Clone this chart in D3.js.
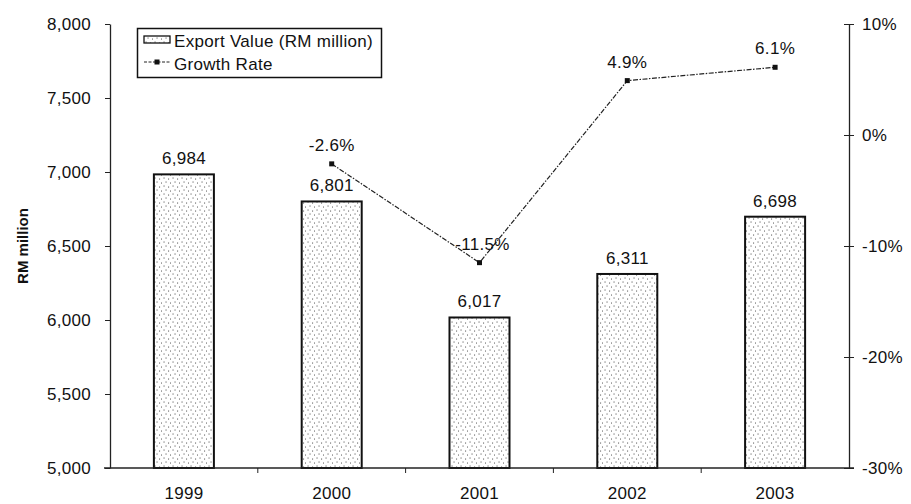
<!DOCTYPE html>
<html><head><meta charset="utf-8">
<script src="https://cdn.jsdelivr.net/npm/d3@7"></script>
<style>
html,body{margin:0;padding:0;background:#fff;}
text{font-family:"Liberation Sans",Arial,sans-serif;fill:#111;}
</style></head>
<body><svg id="c" width="911" height="504"></svg>
<script>
const years = ["1999","2000","2001","2002","2003"];
const exportValue = [6984, 6801, 6017, 6311, 6698];
const growthYears = ["2000","2001","2002","2003"];
const growthRate = [-2.6, -11.5, 4.9, 6.1];
const leftTicks = [5000,5500,6000,6500,7000,7500,8000];
const rightTicks = [-30,-20,-10,0,10];
const seriesNames = ["Export Value (RM million)", "Growth Rate"];
const yTitle = "RM million";

const svg = d3.select("#c");
const L = 110, R = 849, T = 24, B = 468;
const FS = 17, LS = 0.3;

const defs = svg.append("defs");
const pat = defs.append("pattern").attr("id","dots").attr("patternUnits","userSpaceOnUse")
  .attr("width",9).attr("height",8);
pat.append("rect").attr("width",9).attr("height",8).attr("fill","#fff");
[[1.5,1.5],[6,2.5],[3.5,5.5],[8,6.5]].forEach(p=>{
  pat.append("rect").attr("x",p[0]).attr("y",p[1]).attr("width",1.1).attr("height",1.1).attr("fill","#666");
});

const x = d3.scaleBand().domain(years).range([L,R]).paddingInner(0.594).paddingOuter(0.297);
const yL = d3.scaleLinear().domain([5000,8000]).range([B,T]);
const yR = d3.scaleLinear().domain([-30,10]).range([B,T]);
const bw = x.bandwidth();

// bars
svg.append("g").selectAll("rect").data(years).join("rect")
  .attr("x",d=>x(d)).attr("width",bw)
  .attr("y",(d,i)=>yL(exportValue[i])).attr("height",(d,i)=>B-yL(exportValue[i]))
  .attr("fill","url(#dots)").attr("stroke","#111").attr("stroke-width",2);

// bar labels
svg.append("g").selectAll("text").data(years).join("text")
  .attr("x",d=>x(d)+bw/2).attr("y",(d,i)=>yL(exportValue[i])-10)
  .attr("text-anchor","middle").attr("font-size",FS).attr("letter-spacing",LS)
  .text((d,i)=>d3.format(",")(exportValue[i]));

// left axis
const gl = svg.append("g").attr("transform",`translate(${L},0)`)
  .call(d3.axisLeft(yL).tickValues(leftTicks).tickFormat(d3.format(",")).tickSize(5).tickPadding(14).tickSizeOuter(0));
gl.select(".domain").attr("stroke","#222").attr("stroke-width",1.3);
gl.selectAll(".tick line").attr("stroke","#222");
gl.selectAll(".tick text").attr("font-size",FS).attr("letter-spacing",LS).attr("font-family","Liberation Sans, Arial, sans-serif").attr("fill","#111");

// right axis
const gr = svg.append("g").attr("transform",`translate(${R},0)`)
  .call(d3.axisRight(yR).tickValues(rightTicks).tickFormat(d=>d+"%").tickSize(5).tickPadding(8).tickSizeOuter(0));
gr.select(".domain").attr("stroke","#222").attr("stroke-width",1.3);
gr.selectAll(".tick line").attr("x1",-5).attr("stroke","#222");
gr.selectAll(".tick text").attr("font-size",FS).attr("letter-spacing",LS).attr("font-family","Liberation Sans, Arial, sans-serif").attr("fill","#111");

// x axis
svg.append("line").attr("x1",L-6).attr("x2",R+5).attr("y1",B).attr("y2",B).attr("stroke","#222").attr("stroke-width",1.3);
const bounds = years.slice(1).map((d,i)=>(x(years[i])+bw+x(d))/2);
svg.append("g").selectAll("line").data(bounds).join("line")
  .attr("x1",d=>d).attr("x2",d=>d).attr("y1",B).attr("y2",B+5).attr("stroke","#222");
svg.append("g").selectAll("text").data(years).join("text")
  .attr("x",d=>x(d)+bw/2).attr("y",499).attr("text-anchor","middle").attr("font-size",FS).attr("letter-spacing",LS).text(d=>d);

// y title
svg.append("text").attr("transform",`translate(28,${(T+B)/2}) rotate(-90)`)
  .attr("text-anchor","middle").attr("font-size",15).attr("font-weight","bold").text(yTitle);

// growth line
const gx = d=>x(d)+bw/2;
const line = d3.line().x((d,i)=>gx(growthYears[i])).y(d=>yR(d));
svg.append("path").datum(growthRate).attr("d",line).attr("fill","none")
  .attr("stroke","#222").attr("stroke-width",1.2).attr("stroke-dasharray","5,1.5,1.5,1.5");
svg.append("g").selectAll("rect").data(growthRate).join("rect")
  .attr("x",(d,i)=>gx(growthYears[i])-2.5).attr("y",d=>yR(d)-2.5).attr("width",5).attr("height",5).attr("fill","#111");
svg.append("g").selectAll("text").data(growthRate).join("text")
  .attr("x",(d,i)=>gx(growthYears[i])+(i===1?3:0)).attr("y",d=>yR(d)-13)
  .attr("text-anchor","middle").attr("font-size",FS).attr("letter-spacing",LS).text(d=>d.toFixed(1)+"%");

// legend
const lg = svg.append("g");
lg.append("rect").attr("x",137.5).attr("y",28.5).attr("width",244).attr("height",49)
  .attr("fill","#fff").attr("stroke","#111").attr("stroke-width",1.5);
lg.append("rect").attr("x",144).attr("y",36).attr("width",26).attr("height",7).attr("fill","url(#dots)").attr("stroke","#111").attr("stroke-width",1.3);
lg.append("text").attr("x",174).attr("y",47).attr("font-size",FS).attr("letter-spacing",LS).text(seriesNames[0]);
lg.append("line").attr("x1",144).attr("x2",170).attr("y1",62).attr("y2",62).attr("stroke","#222").attr("stroke-dasharray","3,1.5");
lg.append("rect").attr("x",154.5).attr("y",59.5).attr("width",5).attr("height",5).attr("fill","#111");
lg.append("text").attr("x",174).attr("y",70).attr("font-size",FS).attr("letter-spacing",LS).text(seriesNames[1]);
</script></body></html>
